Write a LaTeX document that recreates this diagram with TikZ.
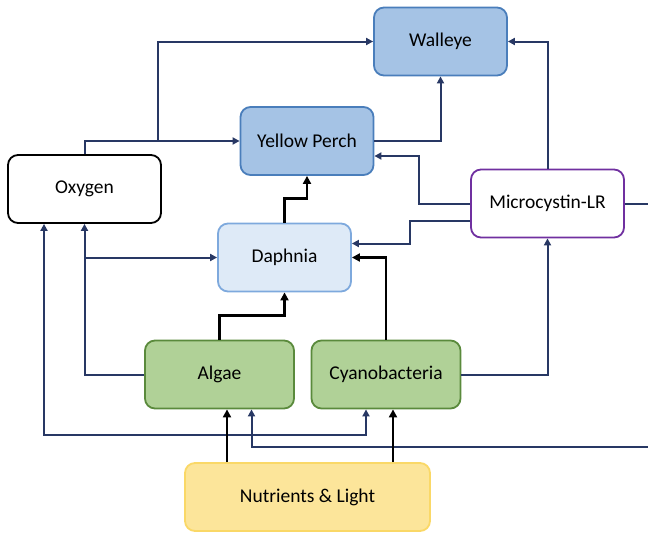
\documentclass[tikz,border=0pt]{standalone}
\usepackage{fontspec}
\setmainfont{Carlito}
\usetikzlibrary{arrows.meta,positioning}

\definecolor{linknavy}{RGB}{40,56,100}
\definecolor{fishfill}{RGB}{165,195,229}
\definecolor{fishline}{RGB}{74,126,187}
\definecolor{zoofill}{RGB}{222,234,247}
\definecolor{zooline}{RGB}{126,169,221}
\definecolor{algfill}{RGB}{176,209,151}
\definecolor{algline}{RGB}{90,138,60}
\definecolor{nutfill}{RGB}{252,229,154}
\definecolor{nutline}{RGB}{250,216,103}
\definecolor{toxline}{RGB}{112,48,160}

\begin{document}
\begin{tikzpicture}[x=1pt,y=1pt,>={Triangle[length=7pt,width=7pt]},
                    node distance=100pt,on grid,
                    box/.style={draw,rounded corners=10pt,line width=1.8pt,
                                minimum height=68pt,inner sep=0pt,
                                font=\fontsize{19.5}{23}\selectfont},
                    fish/.style={box,fill=fishfill,draw=fishline,minimum width=133pt},
                    zoo/.style={box,fill=zoofill,draw=zooline,minimum width=133pt},
                    alg/.style={box,fill=algfill,draw=algline,minimum width=149pt},
                    link/.style={->,draw=linknavy,line width=2pt},
                    feed/.style={->,draw=black,line width=2.8pt,
                                 >={Triangle[length=8pt,width=8pt]}}]
    \useasboundingbox (0,0) rectangle (648,-533);

    \node[fish]                           (walleye) at (440.5,-41.5)              {Walleye};
    \node[fish]                           (perch)   [below left=99.5 and 133.5 of walleye] {Yellow Perch};
    \node[box,draw=toxline,fill=white,minimum width=153pt]
                                          (micro)   [below right=162 and 107 of walleye]  {Microcystin-LR};
    \node[box,draw=black,fill=white,minimum width=153pt]
                                          (oxygen)  [below left=48 and 222.5 of perch]    {Oxygen};
    \node[zoo]                            (daphnia) [below left=116.5 and 22.5 of perch]  {Daphnia};
    \node[alg]                            (algae)   [below left=117 and 65 of daphnia]    {Algae};
    \node[alg]                            (cyano)   [right=166.5 of algae]                {Cyanobacteria};
    \node[box,fill=nutfill,draw=nutline,minimum width=245pt]
                                          (nutrients) [below right=122.5 and 88 of algae] {Nutrients \& Light};

    % oxygen to the fish
    \draw[link] (oxygen.north) |- (perch.west);
    \draw[link] ([xshift=73.5pt]oxygen.north |- perch.west) |- (walleye.west);
    \draw[link] (perch.east) -| (walleye.south);

    % microcystin
    \draw[link] (micro.north) |- (walleye.east);
    \draw[link] (micro.west) -- ++(-51,0) |- ([yshift=-15pt]perch.east);
    \draw[link] ([yshift=-17pt]micro.west) -- ++(-60,0) |- ([yshift=14pt]daphnia.east);
    \draw[link] (micro.east) -- ++(40,0) -- ++(0,-243.5) -| ([xshift=32pt]algae.south);
    \draw[link] (cyano.east) -| (micro.south);

    % algae, oxygen
    \draw[link] (algae.west) -| (oxygen.south);
    \draw[link] (oxygen.south |- daphnia.west) -- (daphnia.west);
    \draw[link,<->] ([xshift=-40.5pt]oxygen.south) -- ++(0,-211) -| ([xshift=-20pt]cyano.south);

    % food web
    \draw[feed] (daphnia.north) -- ++(0,24) -| (perch.south);
    \draw[feed] (algae.north) -- ++(0,24) -| (daphnia.south);
    \draw[feed] (cyano.north) |- (daphnia.east);
    \draw[feed] ([xshift=7.5pt]algae.south |- nutrients.north) -- ([xshift=7.5pt]algae.south);
    \draw[feed] ([xshift=7pt]cyano.south |- nutrients.north) -- ([xshift=7pt]cyano.south);
\end{tikzpicture}
\end{document}
